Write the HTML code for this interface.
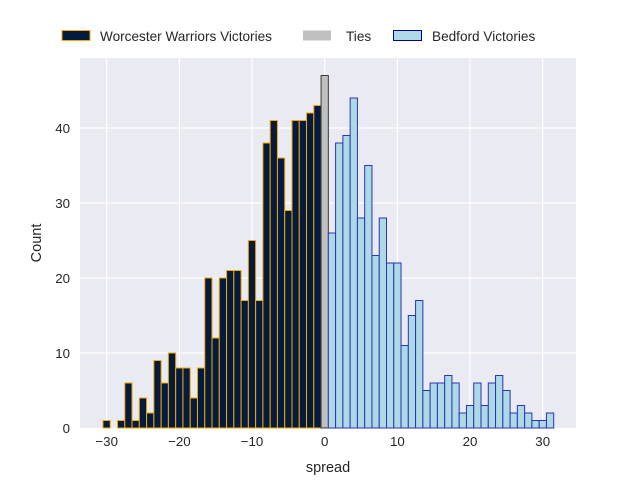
<!DOCTYPE html>
<html><head><meta charset="utf-8"><style>body{margin:0;background:#fff}svg{display:block}text{font-family:"Liberation Sans",sans-serif;fill:#262626}
.w rect{fill:#041a3e;stroke:#f5a800;stroke-width:1}
.b rect{fill:#add8e6;stroke:#2a35b0;stroke-width:1}</style></head>
<body>
<svg width="640" height="480" xmlns="http://www.w3.org/2000/svg">
<rect x="80" y="58" width="496" height="370" fill="#eaeaf2"/>
<g stroke="#fff" stroke-width="1.2">
<line x1="106.7" y1="58" x2="106.7" y2="428"/><line x1="179.4" y1="58" x2="179.4" y2="428"/><line x1="252" y1="58" x2="252" y2="428"/><line x1="324.7" y1="58" x2="324.7" y2="428"/><line x1="397.4" y1="58" x2="397.4" y2="428"/><line x1="470" y1="58" x2="470" y2="428"/><line x1="542.7" y1="58" x2="542.7" y2="428"/>
<line x1="80" y1="353" x2="576" y2="353"/><line x1="80" y1="278" x2="576" y2="278"/><line x1="80" y1="203" x2="576" y2="203"/><line x1="80" y1="128" x2="576" y2="128"/>
</g>
<g class="w">
<rect x="102.97" y="420.5" width="7.27" height="7.5"/>
<rect x="117.51" y="420.5" width="7.27" height="7.5"/>
<rect x="124.78" y="383" width="7.27" height="45"/>
<rect x="132.05" y="420.5" width="7.27" height="7.5"/>
<rect x="139.32" y="398" width="7.27" height="30"/>
<rect x="146.59" y="413" width="7.27" height="15"/>
<rect x="153.86" y="360.5" width="7.27" height="67.5"/>
<rect x="161.13" y="383" width="7.27" height="45"/>
<rect x="168.40" y="353" width="7.27" height="75"/>
<rect x="175.67" y="368" width="7.27" height="60"/>
<rect x="182.94" y="368" width="7.27" height="60"/>
<rect x="190.21" y="398" width="7.27" height="30"/>
<rect x="197.48" y="368" width="7.27" height="60"/>
<rect x="204.75" y="278" width="7.27" height="150"/>
<rect x="212.02" y="338" width="7.27" height="90"/>
<rect x="219.29" y="278" width="7.27" height="150"/>
<rect x="226.56" y="270.5" width="7.27" height="157.5"/>
<rect x="233.83" y="270.5" width="7.27" height="157.5"/>
<rect x="241.10" y="300.5" width="7.27" height="127.5"/>
<rect x="248.37" y="240.5" width="7.27" height="187.5"/>
<rect x="255.64" y="300.5" width="7.27" height="127.5"/>
<rect x="262.91" y="143" width="7.27" height="285"/>
<rect x="270.18" y="120.5" width="7.27" height="307.5"/>
<rect x="277.45" y="158" width="7.27" height="270"/>
<rect x="284.72" y="210.5" width="7.27" height="217.5"/>
<rect x="291.99" y="120.5" width="7.27" height="307.5"/>
<rect x="299.26" y="120.5" width="7.27" height="307.5"/>
<rect x="306.53" y="113" width="7.27" height="315"/>
<rect x="313.80" y="105.5" width="7.27" height="322.5"/>
</g>
<rect x="321.07" y="75.5" width="7.27" height="352.5" fill="#c0c0c0" stroke="#3a3a3a" stroke-width="1"/>
<g class="b">
<rect x="328.34" y="233" width="7.27" height="195"/>
<rect x="335.61" y="143" width="7.27" height="285"/>
<rect x="342.88" y="135.5" width="7.27" height="292.5"/>
<rect x="350.15" y="98" width="7.27" height="330"/>
<rect x="357.42" y="218" width="7.27" height="210"/>
<rect x="364.69" y="165.5" width="7.27" height="262.5"/>
<rect x="371.96" y="255.5" width="7.27" height="172.5"/>
<rect x="379.23" y="218" width="7.27" height="210"/>
<rect x="386.50" y="263" width="7.27" height="165"/>
<rect x="393.77" y="263" width="7.27" height="165"/>
<rect x="401.04" y="345.5" width="7.27" height="82.5"/>
<rect x="408.31" y="315.5" width="7.27" height="112.5"/>
<rect x="415.58" y="300.5" width="7.27" height="127.5"/>
<rect x="422.85" y="390.5" width="7.27" height="37.5"/>
<rect x="430.12" y="383" width="7.27" height="45"/>
<rect x="437.39" y="383" width="7.27" height="45"/>
<rect x="444.66" y="375.5" width="7.27" height="52.5"/>
<rect x="451.93" y="383" width="7.27" height="45"/>
<rect x="459.20" y="413" width="7.27" height="15"/>
<rect x="466.47" y="405.5" width="7.27" height="22.5"/>
<rect x="473.74" y="383" width="7.27" height="45"/>
<rect x="481.01" y="405.5" width="7.27" height="22.5"/>
<rect x="488.28" y="383" width="7.27" height="45"/>
<rect x="495.55" y="375.5" width="7.27" height="52.5"/>
<rect x="502.82" y="390.5" width="7.27" height="37.5"/>
<rect x="510.09" y="413" width="7.27" height="15"/>
<rect x="517.36" y="405.5" width="7.27" height="22.5"/>
<rect x="524.63" y="413" width="7.27" height="15"/>
<rect x="531.90" y="420.5" width="7.27" height="7.5"/>
<rect x="539.17" y="420.5" width="7.27" height="7.5"/>
<rect x="546.44" y="413" width="7.27" height="15"/>
</g>
<g font-size="13.3" text-anchor="middle">
<text x="106.7" y="446">−30</text><text x="179.4" y="446">−20</text><text x="252" y="446">−10</text><text x="324.7" y="446">0</text><text x="397.4" y="446">10</text><text x="470" y="446">20</text><text x="542.7" y="446">30</text>
</g>
<g font-size="13.3" text-anchor="end">
<text x="70" y="433">0</text><text x="70" y="358">10</text><text x="70" y="283">20</text><text x="70" y="208">30</text><text x="70" y="133">40</text>
</g>
<text x="328" y="472" font-size="14.5" text-anchor="middle">spread</text>
<text transform="translate(41,243) rotate(-90)" font-size="14.5" text-anchor="middle">Count</text>
<rect x="62" y="30.5" width="28" height="10" fill="#041a3e" stroke="#f5a800" stroke-width="1"/>
<text x="100" y="41" font-size="13.6">Worcester Warriors Victories</text>
<rect x="303" y="30.5" width="28" height="10" fill="#c0c0c0"/>
<text x="346" y="41" font-size="13.6">Ties</text>
<rect x="393.5" y="30.5" width="28" height="10" fill="#add8e6" stroke="#00008b" stroke-width="1"/>
<text x="432" y="41" font-size="13.6">Bedford Victories</text>
</svg>
</body></html>
